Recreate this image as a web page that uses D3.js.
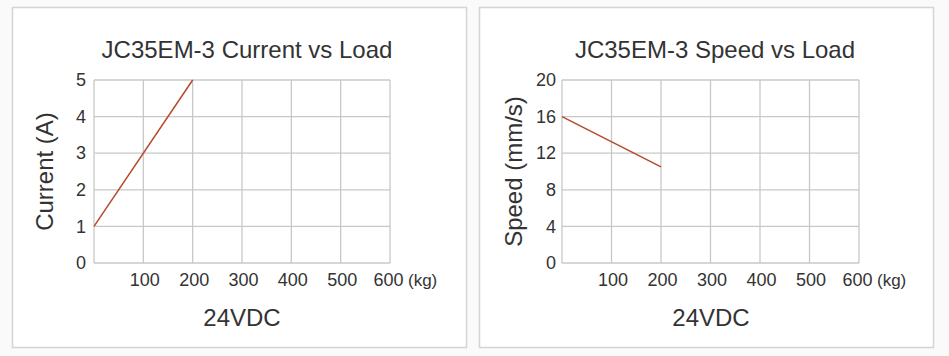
<!DOCTYPE html>
<html><head><meta charset="utf-8">
<script src="https://cdn.jsdelivr.net/npm/d3@7"></script>
<style>body{margin:0;background:#fafafa;}svg{display:block;font-family:Arial,"Liberation Sans",sans-serif;}</style>
</head><body><svg id="c" width="949" height="356"></svg>
<script>
const loadTicks = [100,200,300,400,500,600];
const currentTicks = [0,1,2,3,4,5];
const speedTicks = [0,4,8,12,16,20];
const currentLoad = [0,200];
const currentValues = [1,5];
const speedLoad = [0,200];
const speedValues = [16,10.5];

const FONT = "Arial,'Liberation Sans',sans-serif";
const svg = d3.select("#c");
const charts = [
  {px:12, title:"JC35EM-3 Current vs Load", ylabel:"Current (A)", yTicks:currentTicks, yMax:5, xs:currentLoad, ys:currentValues,
   plotL:94, plotR:390, titleX:247, ylabX:53, subX:242, ypad:8},
  {px:479, title:"JC35EM-3 Speed vs Load", ylabel:"Speed (mm/s)", yTicks:speedTicks, yMax:20, xs:speedLoad, ys:speedValues,
   plotL:562, plotR:859, titleX:715, ylabX:522, subX:711, ypad:6}
];
const plotT = 80, plotB = 263;
charts.forEach(c=>{
  svg.append("rect").attr("x",c.px+0.5).attr("y",7.5).attr("width",454).attr("height",340)
    .attr("fill","#fff").attr("stroke","#d4d4d4").attr("stroke-width",1.5);
  const x = d3.scaleLinear().domain([0,600]).range([c.plotL,c.plotR]);
  const y = d3.scaleLinear().domain([0,c.yMax]).range([plotB,plotT]);
  const g = svg.append("g");
  g.selectAll(".vg").data([0].concat(loadTicks)).join("line")
    .attr("x1",d=>x(d)).attr("x2",d=>x(d)).attr("y1",plotT).attr("y2",plotB)
    .attr("stroke","#c8c8c8").attr("stroke-width",1.3);
  g.selectAll(".hg").data(c.yTicks).join("line")
    .attr("x1",c.plotL).attr("x2",c.plotR).attr("y1",d=>y(d)).attr("y2",d=>y(d))
    .attr("stroke","#c8c8c8").attr("stroke-width",1.3);
  const ya = g.append("g").attr("transform",`translate(${c.plotL},0)`)
    .call(d3.axisLeft(y).tickValues(c.yTicks).tickFormat(d3.format("d")).tickSize(0).tickPadding(c.ypad));
  ya.select(".domain").remove();
  ya.selectAll("text").attr("font-size",18).attr("fill","#333").attr("font-family",FONT);
  const xa = g.append("g").attr("transform",`translate(0,${plotB})`)
    .call(d3.axisBottom(x).tickValues(loadTicks).tickFormat(d3.format("d")).tickSize(0).tickPadding(10));
  xa.select(".domain").remove();
  xa.selectAll("text").attr("font-size",18).attr("fill","#333").attr("font-family",FONT)
    .attr("dx",(d,i)=>i===5?-2:1);
  g.append("text").attr("x",x(600)+18).attr("y",plotB+23).attr("font-size",17).attr("fill","#333").text("(kg)");
  const pts = c.xs.map((v,i)=>[v,c.ys[i]]);
  g.append("path").datum(pts).attr("d",d3.line().x(d=>x(d[0])).y(d=>y(d[1])))
    .attr("fill","none").attr("stroke","#b8482c").attr("stroke-width",1.5);
  svg.append("text").attr("x",c.titleX).attr("y",58).attr("text-anchor","middle").attr("font-size",24).attr("fill","#333").text(c.title);
  svg.append("text").attr("transform",`translate(${c.ylabX},171.5) rotate(-90)`)
    .attr("text-anchor","middle").attr("font-size",24).attr("fill","#333").text(c.ylabel);
  svg.append("text").attr("x",c.subX).attr("y",326).attr("text-anchor","middle").attr("font-size",24).attr("fill","#333").text("24VDC");
});
</script></body></html>
